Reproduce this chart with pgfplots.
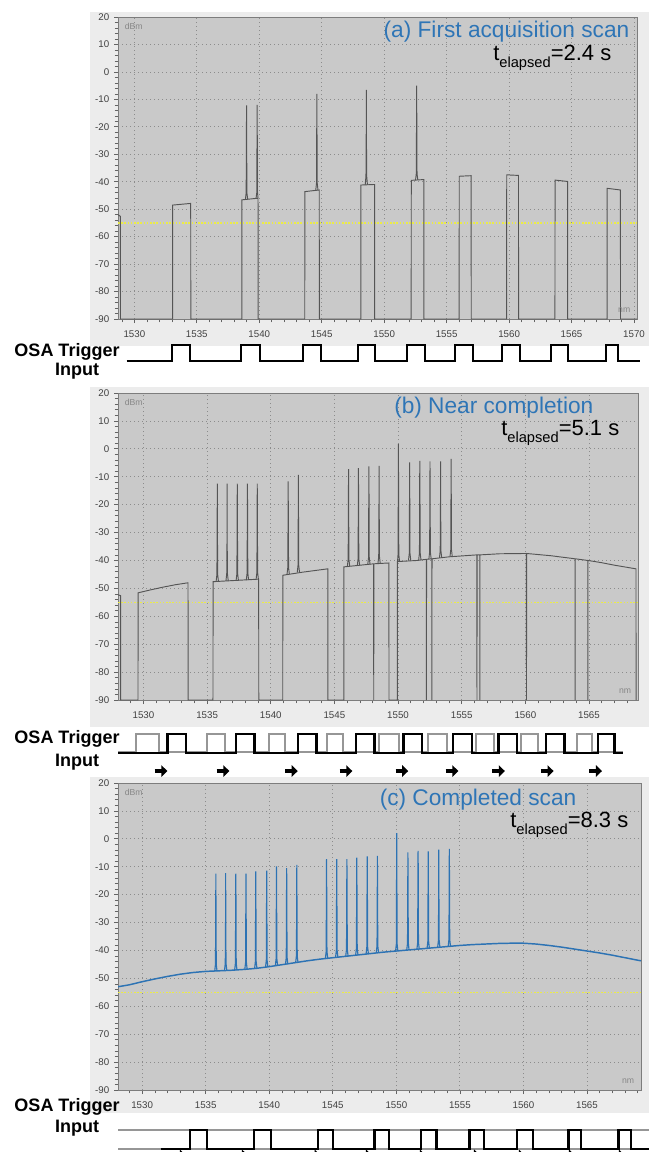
\documentclass[border=0pt]{standalone}
\usepackage{fontspec}
\setmainfont{Liberation Sans}
\usepackage{pgfplots}
\pgfplotsset{compat=1.18}
\usetikzlibrary{arrows.meta}

\definecolor{plotgray}{RGB}{201,201,201}
\definecolor{framegray}{RGB}{236,236,236}
\definecolor{bordergray}{RGB}{125,125,125}
\definecolor{gridgray}{RGB}{140,140,140}
\definecolor{tickgray}{RGB}{100,100,100}
\definecolor{labelgray}{RGB}{65,65,65}
\definecolor{dbmgray}{RGB}{135,135,135}
\definecolor{tracegray}{RGB}{85,85,85}
\definecolor{traceblue}{RGB}{45,115,180}
\definecolor{titleblue}{RGB}{46,117,182}
\definecolor{refyellow}{RGB}{236,236,70}
\definecolor{oldtrig}{RGB}{150,150,150}

\pgfplotsset{
  osa/.style={
    scale only axis, anchor=south west,
    axis background/.style={fill=plotgray},
    axis line style={draw=bordergray, line width=0.5pt},
    ymin=-90, ymax=20,
    ytick={-90,-80,...,20},
    minor ytick={-88,-86,...,18},
    xtick={1530,1535,...,1570},
    minor xtick={1529,1530,...,1570},
    tick align=outside, tick pos=left,
    major tick length=3pt, minor tick length=2.5pt,
    tick style={draw=tickgray, line width=0.5pt},
    minor tick style={draw=tickgray, line width=0.5pt},
    xmajorgrids, ymajorgrids,
    major grid style={draw=gridgray, line width=0.6pt, dash pattern=on 0.8pt off 2.2pt},
    tick label style={font=\fontsize{7.3}{8}\selectfont, text=labelgray},
    xticklabel style={yshift=-2pt},
    /pgf/number format/1000 sep={},
    /pgf/number format/assume math mode=true,
    unbounded coords=jump,
  },
  trig/.style={scale only axis, anchor=south west, axis lines=none,
    ymin=0, ymax=1, clip=false},
}
\tikzset{
  refline/.style={draw=refyellow, line width=0.9pt, dash pattern=on 1.2pt off 1.2pt},
  osalabel/.style={font=\bfseries\fontsize{13.5}{15}\selectfont},
  ttl/.style={anchor=east, text=titleblue, font=\fontsize{17}{19}\selectfont},
  tel/.style={anchor=east, font=\fontsize{16.5}{18}\selectfont},
  unitlbl/.style={font=\fontsize{6.5}{7}\selectfont, text=dbmgray},
  fwd/.style={draw=black, line width=2.5pt, -{Triangle[length=4.5pt,width=8.5pt]}},
}
\newcommand{\telapsed}[1]{t\raisebox{-0.32em}{\fontsize{11}{12}\selectfont elapsed}=#1~s}

\begin{document}
\begin{tikzpicture}
\useasboundingbox (0,0) rectangle (486.75pt,-864pt);

% ---------------- panel (a) ----------------
\fill[framegray] (67.5pt,-9pt) rectangle (486.75pt,-259.5pt);
\begin{axis}[osa, at={(88.5pt,-239.25pt)}, width=389.25pt, height=226.5pt,
    xmin=1528.69, xmax=1570.24]
\addplot[refline] coordinates {(1528.69,-55)(1570.24,-55)};
\addplot[draw=tracegray, line width=0.7pt] coordinates {
 (1528.69,-52.0)(1528.88,-52.6)(1528.89,-90)
 (1533.06,-90)(1533.07,-48.5)(1534.51,-47.9)(1534.52,-90)
 (1538.60,-90)(1538.61,-46.6)(1539.90,-46.0)(1539.91,-90)
 (1543.64,-90)(1543.65,-43.6)(1544.80,-43.0)(1544.81,-90)
 (1548.13,-90)(1548.14,-41.2)(1549.23,-41.0)(1549.24,-90)
 (1552.16,-90)(1552.17,-39.5)(1553.17,-39.2)(1553.18,-90)
 (1556.00,-90)(1556.01,-38.0)(1556.96,-37.8)(1556.97,-90)
 (1559.80,-90)(1559.81,-37.5)(1560.75,-37.7)(1560.76,-90)
 (1563.67,-90)(1563.68,-39.4)(1564.68,-39.9)(1564.69,-90)
 (1567.84,-90)(1567.85,-42.4)(1568.91,-43.0)(1568.92,-90)
 (1570.24,-90)};
\addplot[draw=tracegray, line width=0.7pt] coordinates {
 (1538.89,-46.4)(1538.95,-44)(1538.98,-12.2)(1539.01,-44)(1539.07,-46.4)(1539.07,nan)
 (1539.74,-46.1)(1539.80,-44)(1539.83,-12.0)(1539.86,-44)(1539.90,-46.0)(1539.90,nan)
 (1544.52,-43.2)(1544.58,-40.5)(1544.61,-8.0)(1544.64,-40.5)(1544.70,-43.1)(1544.70,nan)
 (1548.48,-41.1)(1548.54,-38)(1548.562,-22)(1548.57,-6.5)(1548.578,-22)(1548.60,-38)(1548.66,-41.1)(1548.66,nan)
 (1552.51,-39.4)(1552.57,-37)(1552.60,-5.0)(1552.63,-37)(1552.69,-39.3)};
\node[unitlbl, anchor=north west] at (rel axis cs:0.004,0.996) {dBm};
\node[unitlbl, anchor=south east] at (rel axis cs:0.996,0.006) {nm};
\end{axis}
\node[ttl] at (475.5pt,-24pt) {(a) First acquisition scan};
\node[tel] at (462pt,-43.5pt) {\telapsed{2.4}};
\begin{axis}[trig, at={(88.5pt,-270.75pt)}, width=389.25pt, height=12pt,
    xmin=1528.69, xmax=1570.24]
\addplot[const plot, draw=black, line width=1.8pt] coordinates {
 (1529.39,0)(1532.99,1)(1534.44,0)(1538.52,1)(1540.04,0)(1543.49,1)(1544.93,0)
 (1547.89,1)(1549.25,0)(1551.81,1)(1553.25,0)(1555.65,1)(1557.09,0)(1559.42,1)
 (1560.86,0)(1563.34,1)(1564.70,0)(1567.75,1)(1568.71,0)(1570.47,0)};
\end{axis}
\node[osalabel] at (50.25pt,-264pt) {OSA Trigger};
\node[osalabel] at (57.75pt,-278.25pt) {Input};

% ---------------- panel (b) ----------------
\fill[framegray] (67.5pt,-290.25pt) rectangle (486.75pt,-545.25pt);
\begin{axis}[osa, at={(88.5pt,-525pt)}, width=390pt, height=230.25pt,
    xmin=1528.0, xmax=1568.85]
\addplot[refline] coordinates {(1528.0,-55)(1568.85,-55)};
\addplot[draw=tracegray, line width=0.7pt] coordinates {
 (1528.0,-52.3)(1528.2,-52.6)(1528.21,-90)
 (1529.57,-90)(1529.58,-51.6)(1530.5,-50.6)(1531.5,-49.6)(1532.5,-48.7)(1533.50,-48.0)(1533.51,-90)
 (1535.46,-90)(1535.47,-47.6)(1539.05,-46.7)(1539.06,-90)
 (1540.94,-90)(1540.95,-45.3)(1542.5,-44.2)(1544.48,-43.0)(1544.49,-90)
 (1545.74,-90)(1545.75,-42.3)(1548.08,-41.2)(1548.09,-90)(1548.10,-41.2)(1549.28,-40.9)(1549.29,-90)
 (1549.94,-90)(1549.95,-40.4)(1551.5,-40.0)(1552.22,-39.6)(1552.23,-90)(1552.24,-39.6)
 (1552.65,-39.4)(1552.66,-90)(1552.67,-39.4)(1554,-38.7)(1556.19,-38.0)(1556.20,-90)(1556.21,-38.0)
 (1556.42,-38.0)(1556.43,-90)(1556.44,-38.0)(1558,-37.6)(1560.08,-37.5)(1560.09,-90)(1560.10,-37.5)
 (1562,-38.3)(1563.90,-39.4)(1563.91,-90)(1563.92,-39.4)(1564.90,-40.0)(1564.91,-90)(1564.92,-40.0)
 (1566,-40.8)(1567,-41.7)(1568.69,-43.0)(1568.70,-90)};
\addplot[draw=tracegray, line width=0.7pt] coordinates {
 (1535.71,-47.5)(1535.77,-45)(1535.792,-24)(1535.80,-12.5)(1535.808,-24)(1535.83,-45)(1535.89,-47.5)(1535.89,nan)
 (1536.48,-47.3)(1536.54,-44.8)(1536.562,-33)(1536.57,-12.5)(1536.578,-33)(1536.60,-44.8)(1536.66,-47.3)(1536.66,nan)
 (1537.28,-47.2)(1537.34,-44.7)(1537.362,-19)(1537.37,-12.5)(1537.378,-19)(1537.40,-44.7)(1537.46,-47.2)(1537.46,nan)
 (1538.08,-47.0)(1538.14,-44.5)(1538.162,-20.5)(1538.17,-12.5)(1538.178,-20.5)(1538.20,-44.5)(1538.26,-47.0)(1538.26,nan)
 (1538.85,-46.8)(1538.91,-44.3)(1538.94,-12.5)(1538.97,-44.3)(1539.03,-46.7)(1539.03,nan)
 (1541.28,-44.9)(1541.34,-42.4)(1541.37,-11.7)(1541.40,-42.4)(1541.46,-44.9)(1541.46,nan)
 (1542.08,-44.3)(1542.14,-41.8)(1542.162,-20.5)(1542.17,-9.3)(1542.178,-20.5)(1542.20,-41.8)(1542.26,-44.3)(1542.26,nan)
 (1546.02,-42.0)(1546.08,-39.5)(1546.102,-15.6)(1546.11,-7.3)(1546.118,-15.6)(1546.14,-39.5)(1546.20,-42.0)(1546.20,nan)
 (1546.80,-41.8)(1546.86,-39.3)(1546.89,-6.9)(1546.92,-39.3)(1546.98,-41.8)(1546.98,nan)
 (1547.62,-41.5)(1547.68,-39.0)(1547.702,-13.5)(1547.71,-6.3)(1547.718,-13.5)(1547.74,-39.0)(1547.80,-41.5)(1547.80,nan)
 (1548.42,-41.1)(1548.48,-38.6)(1548.502,-18.5)(1548.51,-6.1)(1548.518,-18.5)(1548.54,-38.6)(1548.60,-41.1)(1548.60,nan)
 (1549.96,-40.3)(1550.00,-37.8)(1550.03,1.8)(1550.06,-37.8)(1550.12,-40.3)(1550.12,nan)
 (1550.82,-40.0)(1550.88,-37.5)(1550.902,-14.1)(1550.91,-4.9)(1550.918,-14.1)(1550.94,-37.5)(1551.00,-40.0)(1551.00,nan)
 (1551.62,-39.8)(1551.68,-37.3)(1551.702,-8.5)(1551.71,-4.3)(1551.718,-8.5)(1551.74,-37.3)(1551.80,-39.8)(1551.80,nan)
 (1552.42,-39.5)(1552.48,-37.0)(1552.51,-4.5)(1552.54,-37.0)(1552.60,-39.4)(1552.60,nan)
 (1553.25,-39.1)(1553.31,-36.6)(1553.332,-19.2)(1553.34,-4.5)(1553.348,-19.2)(1553.37,-36.6)(1553.43,-39.1)(1553.43,nan)
 (1554.08,-38.7)(1554.14,-36.2)(1554.17,-3.6)(1554.20,-36.2)(1554.26,-38.7)};
\node[unitlbl, anchor=north west] at (rel axis cs:0.004,0.996) {dBm};
\node[unitlbl, anchor=south east] at (rel axis cs:0.996,0.006) {nm};
\end{axis}
\node[ttl] at (448.5pt,-306pt) {(b) Near completion};
\node[tel] at (468pt,-324.75pt) {\telapsed{5.1}};
\begin{axis}[trig, at={(88.5pt,-564.75pt)}, width=390pt, height=14.25pt,
    xmin=1528.0, xmax=1568.85]
\addplot[const plot, draw=oldtrig, line width=1.5pt] coordinates {
 (1528.0,0.05)(1529.39,1)(1531.24,0.05)(1534.98,1)(1536.44,0.05)(1539.85,1)(1541.15,0.05)
 (1544.41,1)(1545.70,0.05)(1548.47,1)(1550.09,0.05)(1552.37,1)(1553.83,0.05)(1556.11,1)
 (1557.57,0.05)(1559.69,1)(1560.98,0.05)(1564.08,1)(1565.22,0.05)(1567.65,0.05)};
\addplot[const plot, draw=black, line width=1.8pt] coordinates {
 (1528.0,0)(1531.89,1)(1533.35,0)(1537.26,1)(1538.71,0)(1542.13,1)(1543.58,0)
 (1546.68,1)(1548.14,0)(1550.42,1)(1551.90,0)(1554.32,1)(1555.79,0)(1557.90,1)
 (1559.36,0)(1561.63,1)(1563.09,0)(1565.69,1)(1566.99,0)(1567.65,0)};
\addplot[quiver={u=1.0,v=0}, fwd] coordinates {
 (1530.88,-0.95)(1535.75,-0.95)(1541.12,-0.95)(1545.41,-0.95)(1549.80,-0.95)
 (1553.74,-0.95)(1557.39,-0.95)(1561.22,-0.95)(1565.02,-0.95)};
\end{axis}
\node[osalabel] at (50.25pt,-554.25pt) {OSA Trigger};
\node[osalabel] at (57.75pt,-571.5pt) {Input};

% ---------------- panel (c) ----------------
\fill[framegray] (67.5pt,-582.75pt) rectangle (486.75pt,-834.75pt);
\begin{axis}[osa, at={(88.5pt,-817.5pt)}, width=392.25pt, height=230.25pt,
    xmin=1528.1, xmax=1569.25]
\addplot[refline] coordinates {(1528.1,-55)(1569.25,-55)};
\addplot[draw=traceblue, line width=1.1pt] coordinates {
 (1528.1,-53.0)(1529,-52.3)(1530,-51.2)(1531,-50.2)(1532,-49.3)(1533,-48.5)(1534,-47.9)
 (1535,-47.5)(1536,-47.3)(1537,-47.1)(1538,-46.8)(1539,-46.4)(1540,-45.8)(1541,-45.1)
 (1542,-44.4)(1543,-43.7)(1544,-43.1)(1545,-42.6)(1546,-42.1)(1547,-41.6)(1548,-41.1)
 (1549,-40.6)(1550,-40.2)(1551,-39.8)(1552,-39.4)(1553,-39.0)(1554,-38.6)(1555,-38.2)
 (1556,-37.9)(1557,-37.7)(1558,-37.5)(1559,-37.4)(1560,-37.4)(1561,-37.7)(1562,-38.2)
 (1563,-38.8)(1564,-39.5)(1565,-40.2)(1566,-40.9)(1567,-41.7)(1568,-42.6)(1569,-43.5)
 (1569.25,-43.7)};
\addplot[draw=traceblue, line width=0.85pt] coordinates {
 (1535.71,-47.4)(1535.77,-44.9)(1535.792,-24.5)(1535.80,-12.5)(1535.808,-24.5)(1535.83,-44.9)(1535.89,-47.4)(1535.89,nan)
 (1536.48,-47.2)(1536.54,-44.7)(1536.562,-33)(1536.57,-12.3)(1536.578,-33)(1536.60,-44.7)(1536.66,-47.2)(1536.66,nan)
 (1537.28,-47.0)(1537.34,-44.5)(1537.362,-19)(1537.37,-12.5)(1537.378,-19)(1537.40,-44.5)(1537.46,-47.0)(1537.46,nan)
 (1538.08,-46.7)(1538.14,-44.2)(1538.162,-21)(1538.17,-12.5)(1538.178,-21)(1538.20,-44.2)(1538.26,-46.7)(1538.26,nan)
 (1538.85,-46.4)(1538.91,-43.9)(1538.94,-11.7)(1538.97,-43.9)(1539.03,-46.4)(1539.03,nan)
 (1539.71,-45.9)(1539.77,-43.4)(1539.80,-11.4)(1539.83,-43.4)(1539.89,-45.9)(1539.89,nan)
 (1540.48,-45.5)(1540.54,-43.0)(1540.57,-9.9)(1540.60,-43.0)(1540.66,-45.5)(1540.66,nan)
 (1541.28,-44.9)(1541.34,-42.4)(1541.37,-10.5)(1541.40,-42.4)(1541.46,-44.9)(1541.46,nan)
 (1542.08,-44.3)(1542.14,-41.8)(1542.162,-20)(1542.17,-9.3)(1542.178,-20)(1542.20,-41.8)(1542.26,-44.3)(1542.26,nan)
 (1544.42,-42.8)(1544.48,-40.3)(1544.51,-7.3)(1544.54,-40.3)(1544.60,-42.8)(1544.60,nan)
 (1545.22,-42.4)(1545.28,-39.9)(1545.31,-7.3)(1545.34,-39.9)(1545.40,-42.4)(1545.40,nan)
 (1546.02,-42.0)(1546.08,-39.5)(1546.102,-15.5)(1546.11,-7.3)(1546.118,-15.5)(1546.14,-39.5)(1546.20,-42.0)(1546.20,nan)
 (1546.80,-41.6)(1546.86,-39.1)(1546.89,-6.7)(1546.92,-39.1)(1546.98,-41.6)(1546.98,nan)
 (1547.62,-41.2)(1547.68,-38.7)(1547.702,-13.5)(1547.71,-6.3)(1547.718,-13.5)(1547.74,-38.7)(1547.80,-41.2)(1547.80,nan)
 (1548.42,-40.8)(1548.48,-38.3)(1548.502,-18.5)(1548.51,-6.1)(1548.518,-18.5)(1548.54,-38.3)(1548.60,-40.8)(1548.60,nan)
 (1549.94,-40.2)(1550.00,-37.7)(1550.03,2.0)(1550.06,-37.7)(1550.12,-40.2)(1550.12,nan)
 (1550.82,-39.8)(1550.88,-37.3)(1550.902,-14)(1550.91,-4.9)(1550.918,-14)(1550.94,-37.3)(1551.00,-39.8)(1551.00,nan)
 (1551.62,-39.5)(1551.68,-37.0)(1551.702,-8.5)(1551.71,-4.3)(1551.718,-8.5)(1551.74,-37.0)(1551.80,-39.5)(1551.80,nan)
 (1552.42,-39.2)(1552.48,-36.7)(1552.51,-4.5)(1552.54,-36.7)(1552.60,-39.2)(1552.60,nan)
 (1553.25,-38.9)(1553.31,-36.4)(1553.332,-19.5)(1553.34,-3.9)(1553.348,-19.5)(1553.37,-36.4)(1553.43,-38.9)(1553.43,nan)
 (1554.08,-38.5)(1554.14,-36.0)(1554.17,-3.6)(1554.20,-36.0)(1554.26,-38.5)};
\node[unitlbl, anchor=north west] at (rel axis cs:0.004,0.996) {dBm};
\node[unitlbl, anchor=south east] at (rel axis cs:0.996,0.006) {nm};
\end{axis}
\node[ttl] at (435.75pt,-600pt) {(c) Completed scan};
\node[tel] at (474.75pt,-618.75pt) {\telapsed{8.3}};
\begin{axis}[trig, at={(88.5pt,-861.75pt)}, width=392.25pt, height=14.25pt,
    xmin=1528.1, xmax=1569.25]
\addplot[draw=oldtrig, line width=1.2pt] coordinates {(1528.1,1)(1569.86,1)};
\addplot[draw=oldtrig, line width=1.2pt] coordinates {(1528.1,0)(1569.86,0)};
\addplot[const plot, draw=black, line width=1.8pt] coordinates {
 (1531.46,0)(1533.75,1)(1535.08,0)(1538.82,1)(1540.12,0)(1543.82,1)(1545.00,0)
 (1548.27,1)(1549.40,0)(1551.92,1)(1553.15,0)(1555.76,1)(1556.88,0)(1559.47,1)
 (1560.73,0)(1563.55,1)(1564.55,0)(1567.48,1)(1568.44,0)(1569.86,0)};
\addplot[quiver={u=1.0,v=0}, fwd] coordinates {
 (1532.44,-0.33)(1537.32,-0.33)(1543.04,-0.33)(1547.08,-0.33)(1551.32,-0.33)
 (1555.58,-0.33)(1559.11,-0.33)(1563.05,-0.33)(1566.98,-0.33)};
\end{axis}
\node[osalabel] at (50.25pt,-830.25pt) {OSA Trigger};
\node[osalabel] at (57.75pt,-846pt) {Input};
\end{tikzpicture}
\end{document}
